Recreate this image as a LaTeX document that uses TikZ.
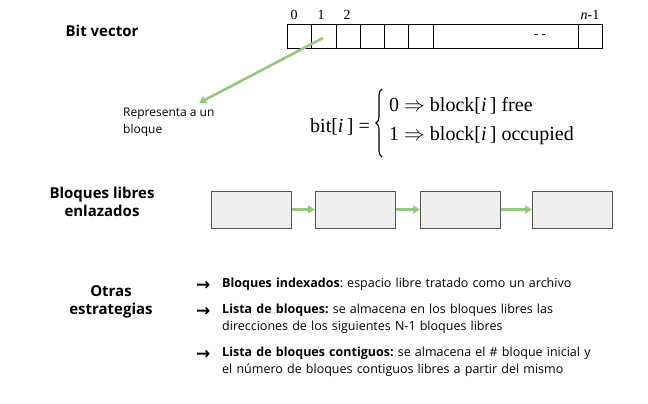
\documentclass[tikz,border=0pt]{standalone}
\usepackage{fontspec}
\setmainfont{Open Sans}
\newfontfamily\serifeq{Liberation Serif}
\newfontfamily\arrowfont{DejaVu Sans}
\usetikzlibrary{arrows.meta,decorations.pathreplacing}
\definecolor{arrowgreen}{HTML}{93C97B}
\definecolor{boxfill}{HTML}{EEEEEE}
\definecolor{boxdraw}{HTML}{555555}
\frenchspacing
\tikzset{
  title/.style={font=\bfseries\fontsize{15}{18}\selectfont, align=center, inner sep=0},
  cell/.style={draw=black, line width=0.8pt, minimum height=24, inner sep=0, anchor=west},
  idx/.style={font=\serifeq\fontsize{14}{16}\selectfont, inner sep=0},
  eqtext/.style={font=\serifeq\fontsize{20}{24}\selectfont, inner sep=0},
  blk/.style={draw=boxdraw, fill=boxfill, line width=0.9pt, minimum width=80, minimum height=37, inner sep=0, anchor=west},
  garrow/.style={draw=arrowgreen, line width=2.6pt, -{Triangle[length=7pt,width=8pt]}},
  item/.style={font=\fontsize{12.5}{17}\selectfont, align=left, text width=390, inner sep=0, anchor=north west},
  bul/.style={font=\arrowfont\bfseries\fontsize{17}{17}\selectfont, inner sep=0, anchor=west},
  curly/.style={decorate, decoration={brace, amplitude=6pt}, line width=1.1pt}
}
\begin{document}
\begin{tikzpicture}[x=1pt,y=-1pt]
\useasboundingbox (0,0) rectangle (648,404);
% Bit vector
\node[title] (tbv) at (102,31) {Bit vector};
\node[cell, minimum width=24] (c0) at (287,36) {};
\node[cell, minimum width=25] (c1) at (311,36) {};
\node[cell, minimum width=24] (c2) at (336,36) {};
\node[cell, minimum width=24] (c3) at (360,36) {};
\node[cell, minimum width=24] (c4) at (384,36) {};
\node[cell, minimum width=25] (c5) at (408,36) {};
\node[cell, minimum width=145] (c6) at (433,36) {};
\node[cell, minimum width=24] (c7) at (578,36) {};
\node[idx] (i0) at (294,15) {0};
\node[idx] (i1) at (321,15) {1};
\node[idx] (i2) at (347,15) {2};
\node[idx] (in) at (590,15) {\textit{n}-1};
\node[font=\fontsize{13}{15}\selectfont, inner sep=0] (dots) at (540,37) {- -};
\coordinate (astart) at (323,38);
\coordinate (aend) at (199,103);
\draw[garrow] (astart) -- (aend);
\node[font=\fontsize{12}{17}\selectfont, align=left, anchor=north west, inner sep=0] (rep) at (123,108) {Representa a un\\bloque};
% equation
\node[eqtext, anchor=east] (lhs) at (370,127) {bit[\textit{i}\,] =};
\coordinate (btop) at (382,89);
\coordinate (bbot) at (382,157);
\draw[curly] (bbot) -- (btop);
\node[eqtext, anchor=west] (l1) at (389,106) {0 $\Rightarrow$ block[\textit{i}\,] free};
\node[eqtext, anchor=west] (l2) at (389,136) {1 $\Rightarrow$ block[\textit{i}\,] occupied};
% linked blocks
\node[title] (tbl) at (102,202) {Bloques libres\\enlazados};
\node[blk] (b1) at (211,209.5) {};
\node[blk] (b2) at (315,209.5) {};
\node[blk] (b3) at (420,209.5) {};
\node[blk] (b4) at (532,209.5) {};
\draw[garrow] (b1) -- (b2);
\draw[garrow] (b2) -- (b3);
\draw[garrow] (b3) -- (b4);
% other strategies
\node[title] (tot) at (111,302) {Otras\\estrategias};
\node[bul] (a1) at (196,286) {→};
\node[item] (t1) at (222,278) {\textbf{Bloques indexados}: espacio libre tratado como un archivo};
\node[bul] (a2) at (196,312) {→};
\node[item] (t2) at (222,304) {\textbf{Lista de bloques:} se almacena en los bloques libres las\\direcciones de los siguientes N-1 bloques libres};
\node[bul] (a3) at (196,355) {→};
\node[item] (t3) at (222,347) {\textbf{Lista de bloques contiguos:} se almacena el \# bloque inicial y\\el número de bloques contiguos libres a partir del mismo};
\end{tikzpicture}
\end{document}
